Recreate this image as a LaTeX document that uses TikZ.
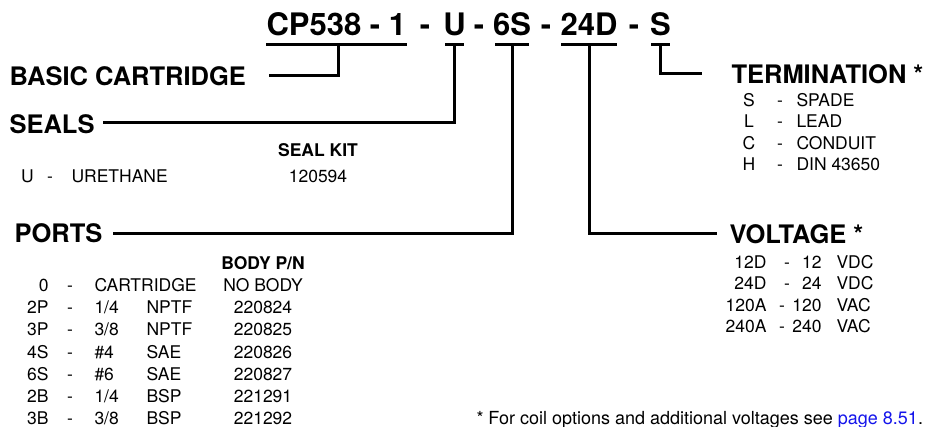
\documentclass[tikz,border=0pt]{standalone}
\usepackage{fontspec}
\setmainfont{TeX Gyre Heros}
\definecolor{linkblue}{RGB}{20,20,235}
\begin{document}
\begin{tikzpicture}[x=1pt,y=-1pt,line width=3pt,
  titletxt/.style={font=\fontsize{31}{31}\selectfont\bfseries,inner sep=0pt,anchor=base},
  head/.style={font=\fontsize{25.5}{25.5}\selectfont\bfseries,inner sep=0pt,anchor=base west},
  body/.style={font=\fontsize{17.5}{17.5}\selectfont,inner sep=0pt,anchor=base},
  bodyL/.style={body,anchor=base west},
  bodyR/.style={body,anchor=base east},
  bodyB/.style={body,font=\fontsize{17.5}{17.5}\selectfont\bfseries},
  conn/.style={line width=3pt,line join=miter}]
\useasboundingbox (0,0) rectangle (927,426);

% ---- title ----
\node[titletxt,anchor=base west] (tcp) at (265,35) {CP538 - 1};
\node[titletxt] (d1) at (425,35) {-};
\node[titletxt] (tU) at (454.5,35) {U};
\node[titletxt] (d2) at (479,35) {-};
\node[titletxt] (t6S) at (512,35) {6S};
\node[titletxt] (d3) at (546,35) {-};
\node[titletxt] (t24D) at (589,35) {24D};
\node[titletxt] (d4) at (634,35) {-};
\node[titletxt] (tS) at (660.5,35) {S};

% underline coordinates
\coordinate (ulCPa) at (266,44); \coordinate (ulCPb) at (407,44); \coordinate (ulCPm) at (338,44);
\coordinate (ulUa) at (445,44);  \coordinate (ulUb) at (464,44);  \coordinate (ulUm) at (454,44);
\coordinate (ul6a) at (495,44);  \coordinate (ul6b) at (529,44);  \coordinate (ul6m) at (512,44);
\coordinate (ul24a) at (561,44); \coordinate (ul24b) at (617,44); \coordinate (ul24m) at (589,44);
\coordinate (ulSa) at (651,44);  \coordinate (ulSb) at (670,44);  \coordinate (ulSm) at (660,44);

% ---- headings ----
\node[head] (basic) at (8,85) {BASIC CARTRIDGE};
\node[head] (seals) at (8,133) {SEALS};
\node[head] (ports) at (13,242) {PORTS};
\node[head] (term) at (730,83) {TERMINATION *};
\node[head] (volt) at (728,243) {VOLTAGE *};

% connector free ends
\coordinate (eBasic) at (269,75);
\coordinate (eSeals) at (103,122);
\coordinate (ePorts) at (113,233);
\coordinate (eVolt) at (717,233);
\coordinate (eTerm) at (702,73);

% ---- connectors ----
\draw[conn] (ulCPa) -- (ulCPb);
\draw[conn] (ulUa) -- (ulUb);
\draw[conn] (ul6a) -- (ul6b);
\draw[conn] (ul24a) -- (ul24b);
\draw[conn] (ulSa) -- (ulSb);
\draw[conn] (ulCPm) |- (eBasic);
\draw[conn] (ulUm) |- (eSeals);
\draw[conn] (ul6m) |- (ePorts);
\draw[conn] (ul24m) |- (eVolt);
\draw[conn] (ulSm) |- (eTerm);

% ---- seals ----
\node[bodyB] (sealkit) at (318,156) {SEAL KIT};
\node[body] (sU) at (27.5,182) {U};
\node[body] (sUd) at (50,182) {-};
\node[bodyL] (sUn) at (70,182) {URETHANE};
\node[body] (sUk) at (318,182) {120594};

% ---- ports ----
\node[bodyB] (bodypn) at (263,269) {BODY P/N};
\node[bodyR] (p0c) at (50,291) {0};   \node[body] (p0d) at (70,291) {-};
\node[bodyL] (p0n) at (93,291) {CARTRIDGE}; \node[body] (p0b) at (263,291) {NO BODY};
\node[bodyR] (p1c) at (50,313) {2P};  \node[body] (p1d) at (70,313) {-};
\node[bodyL] (p1s) at (93,313) {1/4}; \node[bodyL] (p1t) at (145,313) {NPTF}; \node[body] (p1b) at (263,313) {220824};
\node[bodyR] (p2c) at (50,335.5) {3P};  \node[body] (p2d) at (70,335.5) {-};
\node[bodyL] (p2s) at (93,335.5) {3/8}; \node[bodyL] (p2t) at (145,335.5) {NPTF}; \node[body] (p2b) at (263,335.5) {220825};
\node[bodyR] (p3c) at (50,358) {4S};  \node[body] (p3d) at (70,358) {-};
\node[bodyL] (p3s) at (93,358) {\#4}; \node[bodyL] (p3t) at (145,358) {SAE}; \node[body] (p3b) at (263,358) {220826};
\node[bodyR] (p4c) at (50,380) {6S};  \node[body] (p4d) at (70,380) {-};
\node[bodyL] (p4s) at (93,380) {\#6}; \node[bodyL] (p4t) at (145,380) {SAE}; \node[body] (p4b) at (263,380) {220827};
\node[bodyR] (p5c) at (50,402) {2B};  \node[body] (p5d) at (70,402) {-};
\node[bodyL] (p5s) at (93,402) {1/4}; \node[bodyL] (p5t) at (145,402) {BSP}; \node[body] (p5b) at (263,402) {221291};
\node[bodyR] (p6c) at (50,424) {3B};  \node[body] (p6d) at (70,424) {-};
\node[bodyL] (p6s) at (93,424) {3/8}; \node[bodyL] (p6t) at (145,424) {BSP}; \node[body] (p6b) at (263,424) {221292};

% ---- termination ----
\node[body] (tm1c) at (749,106) {S};  \node[body] (tm1d) at (780,106) {-};  \node[bodyL] (tm1n) at (795,106) {SPADE};
\node[body] (tm2c) at (749,127.5) {L}; \node[body] (tm2d) at (780,127.5) {-}; \node[bodyL] (tm2n) at (795,127.5) {LEAD};
\node[body] (tm3c) at (749,149) {C}; \node[body] (tm3d) at (780,149) {-}; \node[bodyL] (tm3n) at (795,149) {CONDUIT};
\node[body] (tm4c) at (749,170.5) {H}; \node[body] (tm4d) at (780,170.5) {-}; \node[bodyL] (tm4n) at (795,170.5) {DIN 43650};

% ---- voltage ----
\node[bodyR] (v1c) at (768,268) {12D};  \node[body] (v1d) at (787,268) {-}; \node[bodyR] (v1n) at (823,268) {12};  \node[bodyL] (v1u) at (835,268) {VDC};
\node[bodyR] (v2c) at (768,289.5) {24D};  \node[body] (v2d) at (787,289.5) {-}; \node[bodyR] (v2n) at (823,289.5) {24};  \node[bodyL] (v2u) at (835,289.5) {VDC};
\node[bodyR] (v3c) at (768,311) {120A}; \node[body] (v3d) at (782,311) {-}; \node[bodyR] (v3n) at (823,311) {120}; \node[bodyL] (v3u) at (835,311) {VAC};
\node[bodyR] (v4c) at (768,332.5) {240A}; \node[body] (v4d) at (782,332.5) {-}; \node[bodyR] (v4n) at (823,332.5) {240}; \node[bodyL] (v4u) at (835,332.5) {VAC};

% ---- footnote ----
\node[bodyL,font=\fontsize{18}{18}\selectfont] (foot) at (475,424) {* For coil options and additional voltages see \textcolor{linkblue}{page 8.51}.};
\end{tikzpicture}
\end{document}
